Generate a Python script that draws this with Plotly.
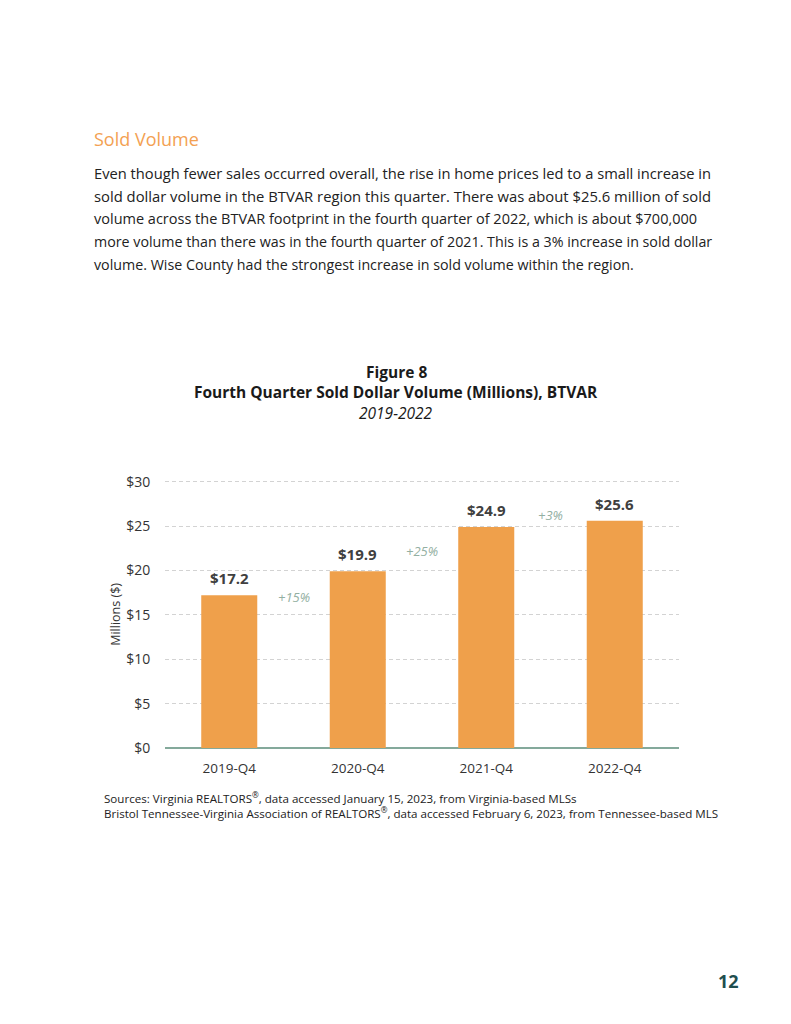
import plotly.graph_objects as go

categories = ["2019-Q4", "2020-Q4", "2021-Q4", "2022-Q4"]
values = [17.2, 19.9, 24.9, 25.6]
value_labels = ["$17.2", "$19.9", "$24.9", "$25.6"]
pct_labels = ["+15%", "+25%", "+3%"]
pct_label_y = [17.0, 22.2, 26.2]
y_tick_vals = [0, 5, 10, 15, 20, 25, 30]
y_tick_text = ["$0", "$5", "$10", "$15", "$20", "$25", "$30"]

W, H = 791, 1024
FONT = "Open Sans"
BAR = "#EFA04B"
TEAL_AXIS = "#84A99B"
PCT = "#93AFA2"

paragraph = [
    "Even though fewer sales occurred overall, the rise in home prices led to a small increase in",
    "sold dollar volume in the BTVAR region this quarter. There was about $25.6 million of sold",
    "volume across the BTVAR footprint in the fourth quarter of 2022, which is about $700,000",
    "more volume than there was in the fourth quarter of 2021. This is a 3% increase in sold dollar",
    "volume. Wise County had the strongest increase in sold volume within the region.",
]
paragraph_sizes = [14.7, 14.8, 14.5, 14.25, 14.25]


def py(p):
    # pixel-from-top -> paper fraction (compensating for the viewer's vertical mapping)
    q = (p - 9.7) / 0.981
    return 1 - q / H


def px(p):
    return p / W


fig = go.Figure()
fig.add_trace(go.Bar(x=categories, y=values, marker=dict(color=BAR, line=dict(width=0)),
                     hoverinfo="skip", showlegend=False))

ann = []
ann.append(dict(text="Sold Volume", x=px(92), y=py(140), xref="paper", yref="paper",
                xanchor="left", yanchor="middle", showarrow=False,
                font=dict(family=FONT, size=18, color="#F3A152")))
for i, (line, sz) in enumerate(zip(paragraph, paragraph_sizes)):
    ann.append(dict(text=line, x=px(92), y=py(174 + 23 * i), xref="paper", yref="paper",
                    xanchor="left", yanchor="middle", showarrow=False,
                    font=dict(family=FONT, size=sz, color="#222222")))
ann.append(dict(text="<b>Figure 8</b>", x=px(396), y=py(373), xref="paper", yref="paper",
                xanchor="center", yanchor="middle", showarrow=False,
                font=dict(family=FONT, size=15.5, color="#1a1a1a")))
ann.append(dict(text="<b>Fourth Quarter Sold Dollar Volume (Millions), BTVAR</b>", x=px(396), y=py(393),
                xref="paper", yref="paper", xanchor="center", yanchor="middle", showarrow=False,
                font=dict(family=FONT, size=15.5, color="#1a1a1a")))
ann.append(dict(text="<i>2019-2022</i>", x=px(396), y=py(414), xref="paper", yref="paper",
                xanchor="center", yanchor="middle", showarrow=False,
                font=dict(family=FONT, size=15.5, color="#1a1a1a")))
ann.append(dict(text="Millions ($)", x=px(116), y=py(615), xref="paper", yref="paper",
                xanchor="center", yanchor="middle", showarrow=False, textangle=-90,
                font=dict(family=FONT, size=12.5, color="#333333")))
for c, v, t in zip(categories, values, value_labels):
    ann.append(dict(text="<b>" + t + "</b>", x=c, y=v, xref="x", yref="y",
                    xanchor="center", yanchor="bottom", yshift=5, showarrow=False,
                    font=dict(family=FONT, size=15, color="#404040")))
for i, (t, yv) in enumerate(zip(pct_labels, pct_label_y)):
    ann.append(dict(text="<i>" + t + "</i>", x=i + 0.5, y=yv, xref="x", yref="y",
                    xanchor="center", yanchor="middle", showarrow=False,
                    font=dict(family=FONT, size=13, color=PCT)))
ann.append(dict(text="Sources: Virginia REALTORS<sup>®</sup>, data accessed January 15, 2023, from Virginia-based MLSs",
                x=px(102), y=py(797), xref="paper", yref="paper", xanchor="left", yanchor="middle",
                showarrow=False, font=dict(family=FONT, size=11.6, color="#222222")))
ann.append(dict(text="Bristol Tennessee-Virginia Association of REALTORS<sup>®</sup>, data accessed February 6, 2023, from Tennessee-based MLS",
                x=px(102), y=py(812), xref="paper", yref="paper", xanchor="left", yanchor="middle",
                showarrow=False, font=dict(family=FONT, size=11.6, color="#222222")))
ann.append(dict(text="<b>12</b>", x=px(728), y=py(980), xref="paper", yref="paper",
                xanchor="center", yanchor="middle", showarrow=False,
                font=dict(family=FONT, size=18, color="#1F4E4F")))

fig.update_layout(
    width=W, height=H, margin=dict(l=0, r=0, t=0, b=0),
    paper_bgcolor="white", plot_bgcolor="white",
    bargap=0.564, annotations=ann,
    xaxis=dict(domain=[px(165), px(679)], showgrid=False, showline=False, zeroline=False,
               ticks="outside", ticklen=8, tickcolor="rgba(0,0,0,0)",
               tickfont=dict(family=FONT, size=13.5, color="#333333"), fixedrange=True),
    yaxis=dict(domain=[py(748), py(480)], range=[0, 30.25], tickvals=y_tick_vals, ticktext=y_tick_text,
               showgrid=True, gridcolor="#D3D3D3", griddash="4px,3px", gridwidth=1,
               zeroline=True, zerolinecolor=TEAL_AXIS, zerolinewidth=2, showline=False,
               ticks="outside", ticklen=11, tickcolor="rgba(0,0,0,0)",
               tickfont=dict(family=FONT, size=14, color="#333333"), fixedrange=True),
    font=dict(family=FONT),
)

fig.write_html("out.html", config={"displayModeBar": False})
with open("out.html", "r", encoding="utf-8") as f:
    html = f.read()
html = html.replace("<head>", "<head><style>html,body{margin:0;padding:0;overflow:hidden;}</style>", 1)
with open("out.html", "w", encoding="utf-8") as f:
    f.write(html)
